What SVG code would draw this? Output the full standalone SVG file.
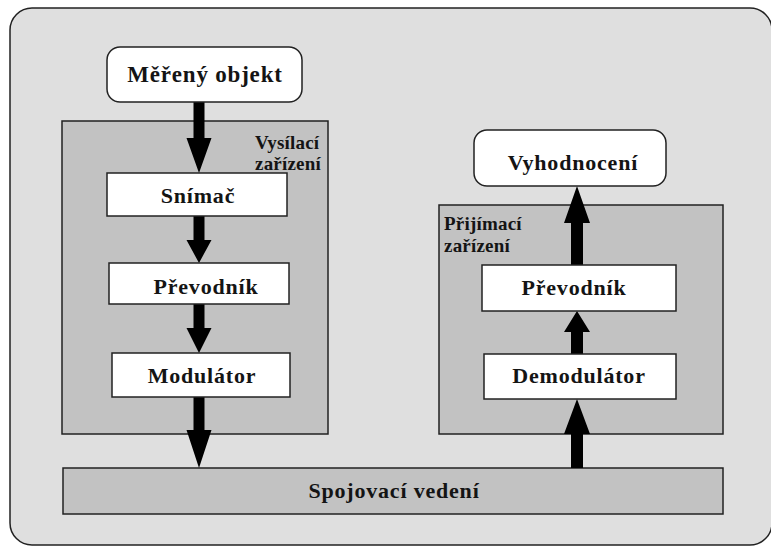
<svg xmlns="http://www.w3.org/2000/svg" width="771" height="546" viewBox="0 0 771 546">
<style>
.frame{fill:#dfdfdf;stroke:#222;stroke-width:1.5}
.group{fill:#c2c2c2;stroke:#222;stroke-width:1.5}
.box{fill:#fff;stroke:#222;stroke-width:1.5}
.t{font-family:"Liberation Serif","Times New Roman",serif;font-weight:bold;fill:#141414}
.big{font-size:22px;letter-spacing:0.8px;text-anchor:middle}
.small{font-size:19px;letter-spacing:0.2px}
.arrow{fill:#000}
</style>
<rect width="771" height="546" fill="#fff"/>
<rect class="frame" x="10" y="8" width="762" height="537" rx="22" ry="22"/>

<g id="vysilaci">
<rect class="group" x="62" y="121" width="266" height="313"/>
<text class="t small" x="255" y="149">Vysílací</text>
<text class="t small" x="255" y="170">zařízení</text>
</g>
<g id="prijimaci">
<rect class="group" x="439" y="205" width="284" height="229"/>
<text class="t small" x="444" y="230">Přijímací</text>
<text class="t small" x="444" y="252">zařízení</text>
</g>
<g id="spojovaci">
<rect class="group" x="63" y="468" width="660" height="46"/>
<text class="t big" x="394" y="498">Spojovací vedení</text>
</g>

<g id="connectors">
<path class="arrow" d="M193.5,102 H204.5 V138 H211.5 L199,173 L186.5,138 H193.5 Z"/>
<path class="arrow" d="M193.5,216 H204.5 V240 H211.5 L199,263 L186.5,240 H193.5 Z"/>
<path class="arrow" d="M193.5,304 H204.5 V328 H211.5 L199,353 L186.5,328 H193.5 Z"/>
<path class="arrow" d="M193.5,397 H204.5 V430 H211.5 L199,468 L186.5,430 H193.5 Z"/>
<path class="arrow" d="M571,468 H583 V434 H590 L577,399 L564,434 H571 Z"/>
<path class="arrow" d="M571,354 H583 V332 H590 L577,311 L564,332 H571 Z"/>
<path class="arrow" d="M571,265 H583 V223 H590 L577,186 L564,223 H571 Z"/>
</g>

<g id="mereny-objekt">
<rect class="box" x="107" y="47" width="195" height="55" rx="13" ry="13"/>
<text class="t big" x="205" y="82" style="font-size:23px">Měřený objekt</text>
</g>
<g id="snimac">
<rect class="box" x="107" y="173" width="180" height="43"/>
<text class="t big" x="198" y="203">Snímač</text>
</g>
<g id="prevodnik-l">
<rect class="box" x="109" y="263" width="180" height="41"/>
<text class="t big" x="206" y="294">Převodník</text>
</g>
<g id="modulator">
<rect class="box" x="112" y="353" width="178" height="44"/>
<text class="t big" x="202" y="383">Modulátor</text>
</g>
<g id="vyhodnoceni">
<rect class="box" x="474" y="130" width="192" height="56" rx="13" ry="13"/>
<text class="t big" x="573" y="170">Vyhodnocení</text>
</g>
<g id="prevodnik-r">
<rect class="box" x="482" y="265" width="194" height="46"/>
<text class="t big" x="574" y="295">Převodník</text>
</g>
<g id="demodulator">
<rect class="box" x="484" y="354" width="192" height="45"/>
<text class="t big" x="579" y="383">Demodulátor</text>
</g>
</svg>
